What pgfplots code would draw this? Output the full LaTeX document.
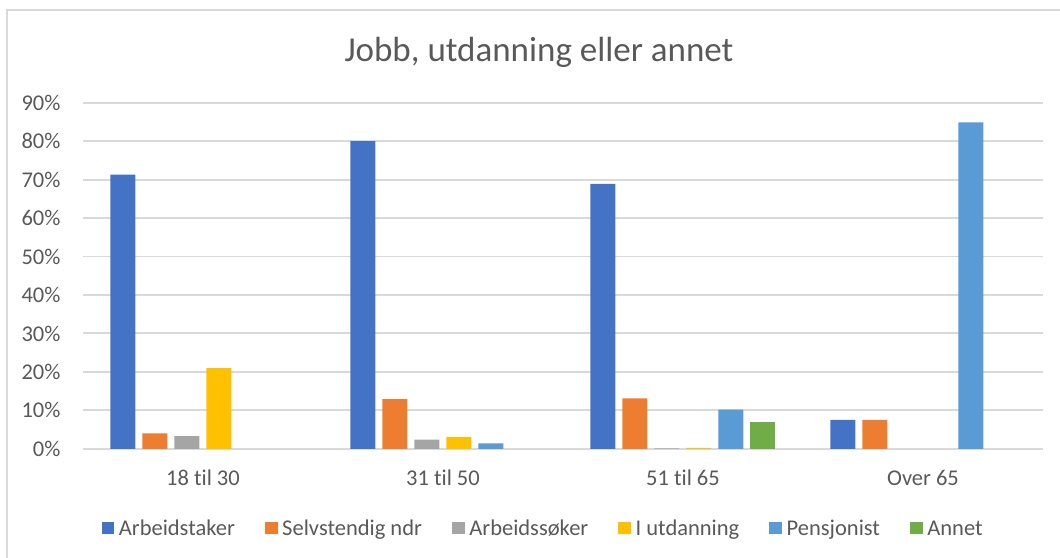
\documentclass[border=0pt]{standalone}
\usepackage{fontspec}
\setmainfont{Carlito}[Ligatures=NoCommon]
\usepackage{pgfplots}
\pgfplotsset{compat=1.18}
\definecolor{c1}{HTML}{4472C4}
\definecolor{c2}{HTML}{ED7D31}
\definecolor{c3}{HTML}{A5A5A5}
\definecolor{c4}{HTML}{FFC000}
\definecolor{c5}{HTML}{5B9BD5}
\definecolor{c6}{HTML}{70AD47}
\definecolor{txt}{HTML}{595959}
\definecolor{gridc}{HTML}{D9D9D9}
\begin{document}
\begin{tikzpicture}
\useasboundingbox (0,0) rectangle (424pt,-222.8pt);
\draw[gridc, line width=0.5pt] (2.8pt,-223pt) -- (2.8pt,-4pt) -- (424.5pt,-4pt);
\node[anchor=base, text=txt, font=\fontsize{14}{17}\selectfont, inner sep=0pt] at (215.6pt,-24.7pt) {Jobb, utdanning eller annet};
\begin{axis}[
  at={(33.2pt,-179.5pt)}, anchor=south west,
  scale only axis, width=384pt, height=138.4pt,
  ymin=0, ymax=90, xmin=-0.5, xmax=3.5,
  axis line style={draw=none},
  major tick length=0pt,
  ymajorgrids, grid style={gridc, line width=0.75pt},
  ytick={0,10,...,90},
  yticklabel={\pgfmathprintnumber{\tick}\%},
  xtick={0,1,2,3},
  xticklabels={18 til 30, 31 til 50, 51 til 65, Over 65},
  tick label style={font=\fontsize{9}{11}\selectfont, text=txt},
  /pgf/number format/assume math mode=true,
  xticklabel style={anchor=base, yshift=-14.5pt},
  yticklabel style={anchor=east, xshift=-5.5pt},
  ybar=2.8pt, bar width=10pt,
  every axis plot/.append style={draw=none,
    legend image code/.code={\fill[##1] (0pt,-2.55pt) rectangle (5.1pt,2.55pt);}},
  legend columns=6,
  legend style={draw=none, fill=none, inner sep=0pt, anchor=west,
    at={(0.01875,-0.2292)}, font=\fontsize{9}{11}\selectfont, text=txt,
    nodes={inner sep=0pt, text depth=0pt},
    /tikz/every odd column/.append style={column sep=1.85pt},
    /tikz/every even column/.append style={column sep=12pt}},
]
\addplot[fill=c1] coordinates {(0,71.3) (1,80.0) (2,68.9) (3,7.5)};
\addplot[fill=c2] coordinates {(0,4.0) (1,12.9) (2,13.1) (3,7.5)};
\addplot[fill=c3] coordinates {(0,3.3) (1,2.4) (2,0.1)};
\addplot[fill=c4] coordinates {(0,21.0) (1,3.0) (2,0.2)};
\addplot[fill=c5] coordinates {(1,1.4) (2,10.2) (3,84.9)};
\addplot[fill=c6] coordinates {(2,7.0)};
\legend{Arbeidstaker, Selvstendig ndr, Arbeidssøker, I utdanning, Pensjonist, Annet}
\end{axis}
\end{tikzpicture}
\end{document}
